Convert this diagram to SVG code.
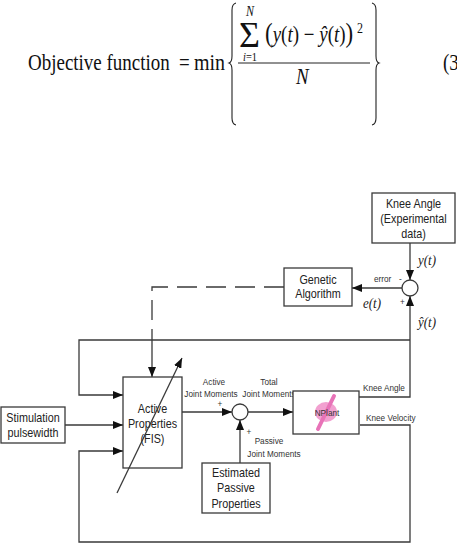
<svg xmlns="http://www.w3.org/2000/svg" width="457" height="545" viewBox="0 0 457 545">
<defs>
<marker id="ah" markerUnits="userSpaceOnUse" markerWidth="11" markerHeight="8" refX="10" refY="4" orient="auto">
<path d="M0,0 L10,4 L0,8 z" fill="#111"/>
</marker>
<style>
text{transform-box:fill-box;transform-origin:center;transform:scaleY(1.2)}
.eq{font-family:"Liberation Serif",serif;fill:#111}
.it{font-style:italic}
.ln{fill:none;stroke:#3a3a3a;stroke-width:1.3}
.box{fill:#fff;stroke:#3a3a3a;stroke-width:1.3}
.t{font-family:"Liberation Sans",Arial,sans-serif;font-size:10.8px;fill:#222;text-anchor:middle}
.s{font-family:"Liberation Sans",Arial,sans-serif;font-size:8.2px;fill:#333}
.m{font-family:"Liberation Serif",serif;font-style:italic;font-size:13px;fill:#222}
</style>
</defs>
<rect width="457" height="545" fill="#fff"/>
<g id="equation">
<text class="eq" x="28" y="69" font-size="19">Objective function</text>
<text class="eq" x="179" y="69" font-size="19">=</text>
<text class="eq" x="194" y="69" font-size="20">min</text>
<path d="M236,3 Q232,4 232,10 L232,56 Q232,62 229,63 Q232,64 232,70 L232,118 Q232,124 236,125" fill="none" stroke="#222" stroke-width="1.1"/>
<text class="eq" x="239" y="47" font-size="36" style="transform:none">Σ</text>
<text class="eq it" x="246" y="15" font-size="12">N</text>
<text class="eq" x="243" y="60" font-size="10.5"><tspan font-style="italic">i</tspan>=1</text>
<text class="eq" x="265" y="40" font-size="19"><tspan font-size="23">(</tspan><tspan font-style="italic">y</tspan>(<tspan font-style="italic">t</tspan>) − <tspan font-style="italic">ŷ</tspan>(<tspan font-style="italic">t</tspan>)<tspan font-size="23">)</tspan></text>
<text class="eq" x="357" y="32" font-size="12">2</text>
<line x1="238" y1="63" x2="370" y2="63" stroke="#222" stroke-width="1"/>
<text class="eq it" x="296" y="83" font-size="19">N</text>
<path d="M372,3 Q376,4 376,10 L376,56 Q376,62 379,63 Q376,64 376,70 L376,118 Q376,124 372,125" fill="none" stroke="#222" stroke-width="1.1"/>
<text class="eq" x="443" y="69" font-size="19">(3</text>
</g>
<g id="connectors">
<line class="ln" x1="410" y1="243" x2="410" y2="280" marker-end="url(#ah)"/>
<path class="ln" d="M359,397 H410 V296" marker-end="url(#ah)"/>
<path class="ln" d="M410,340 H79 V395 H123" marker-end="url(#ah)"/>
<line class="ln" x1="402" y1="288" x2="352" y2="288" marker-end="url(#ah)"/>
<path class="ln" d="M284,287 H152 V340" stroke-dasharray="20,9"/>
<line class="ln" x1="152" y1="340" x2="152" y2="377" marker-end="url(#ah)"/>
<line class="ln" x1="65" y1="425" x2="123" y2="425" marker-end="url(#ah)"/>
<path class="ln" d="M360,425 H410 V542 H79 V451 H123" marker-end="url(#ah)"/>
<line class="ln" x1="182" y1="412" x2="232" y2="412" marker-end="url(#ah)"/>
<line class="ln" x1="248" y1="412" x2="293" y2="412" marker-end="url(#ah)"/>
<line class="ln" x1="240" y1="463" x2="240" y2="420" marker-end="url(#ah)"/>
</g>
<g id="knee_angle_exp">
<rect class="box" x="372" y="193" width="83" height="50"/>
<text class="t" x="413.5" y="207">Knee Angle</text>
<text class="t" x="413.5" y="222">(Experimental</text>
<text class="t" x="413.5" y="237">data)</text>
</g>
<g id="sum_error">
<circle class="box" cx="410" cy="288" r="8"/>
<text class="s" x="399" y="281">-</text>
<text class="s" x="400" y="304">+</text>
<text class="s" x="374" y="281" font-size="7.5">error</text>
<text class="m" x="418" y="264">y(t)</text>
<text class="m" x="363" y="307">e(t)</text>
<text class="m" x="418" y="326">ŷ(t)</text>
</g>
<g id="genetic_algorithm">
<rect class="box" x="284" y="268" width="68" height="38"/>
<text class="t" x="318" y="283">Genetic</text>
<text class="t" x="318" y="297.5">Algorithm</text>
</g>
<g id="stimulation">
<rect class="box" x="1" y="407" width="64" height="36"/>
<text class="t" x="33" y="421">Stimulation</text>
<text class="t" x="33" y="436">pulsewidth</text>
</g>
<g id="active_properties">
<rect class="box" x="123" y="377" width="59" height="91"/>
<text class="t" x="152.5" y="412">Active</text>
<text class="t" x="152.5" y="427">Properties</text>
<text class="t" x="152.5" y="442">(FIS)</text>
<line class="ln" x1="117" y1="493" x2="182" y2="358" marker-end="url(#ah)"/>
</g>
<g id="sum_moments">
<circle class="box" cx="240" cy="412" r="8"/>
<text class="s" x="214" y="384" text-anchor="middle">Active</text>
<text class="s" x="211" y="396" text-anchor="middle">Joint Moments</text>
<text class="s" x="220" y="406" text-anchor="middle">+</text>
<text class="s" x="269" y="384" text-anchor="middle">Total</text>
<text class="s" x="269" y="396" text-anchor="middle">Joint Moments</text>
<text class="s" x="249" y="434" text-anchor="middle">+</text>
<text class="s" x="269" y="443" text-anchor="middle">Passive</text>
<text class="s" x="274" y="456" text-anchor="middle">Joint Moments</text>
</g>
<g id="nplant">
<rect class="box" x="293" y="391" width="66" height="43"/>
<ellipse cx="326" cy="412" rx="11" ry="10" fill="#f08fc8" opacity="0.85"/>
<line x1="334" y1="396" x2="318" y2="429" stroke="#e873b8" stroke-width="4" stroke-linecap="round"/>
<text class="s" x="327" y="415" text-anchor="middle">NPlant</text>
<text class="s" x="363" y="390">Knee Angle</text>
<text class="s" x="366" y="420">Knee Velocity</text>
</g>
<g id="estimated_passive">
<rect class="box" x="202" y="463" width="68" height="50"/>
<text class="t" x="236" y="476">Estimated</text>
<text class="t" x="236" y="491">Passive</text>
<text class="t" x="236" y="507">Properties</text>
</g>
</svg>
